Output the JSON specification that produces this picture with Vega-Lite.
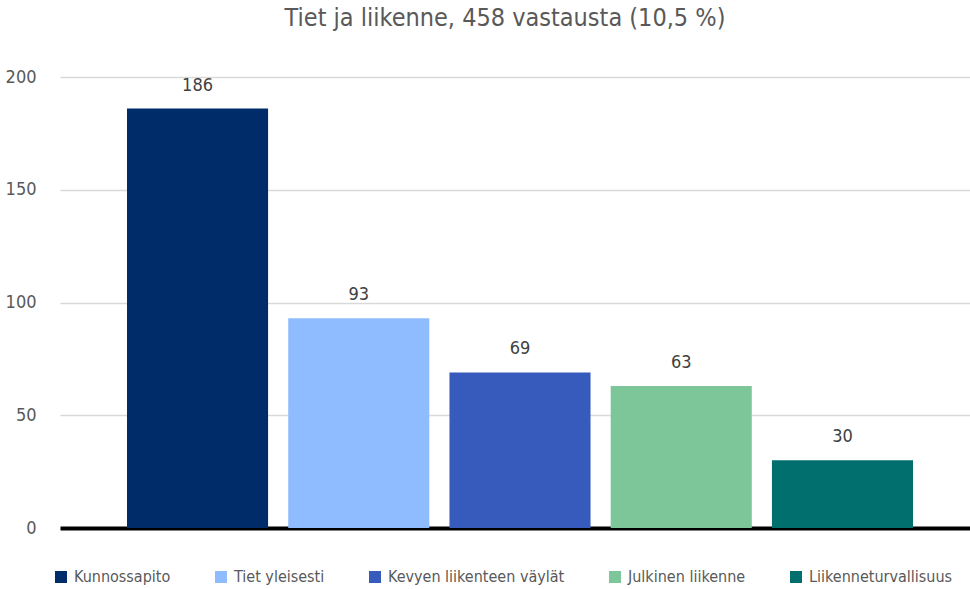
{
  "$schema": "https://vega.github.io/schema/vega-lite/v6.json",
  "width": 920,
  "height": 451,
  "autosize": "none",
  "padding": {"left": 60, "top": 77, "right": 0, "bottom": 61},
  "background": "white",
  "config": {"view": {"stroke": null}, "font": "DejaVu Sans Condensed, Roboto, sans-serif"},
  "title": {
    "text": "Tiet ja liikenne, 458 vastausta (10,5 %)",
    "font": "DejaVu Sans Condensed, Roboto, sans-serif",
    "fontSize": 25,
    "fontWeight": "normal",
    "color": "#595959",
    "anchor": "middle",
    "frame": "group",
    "offset": 37,
    "dx": -15
  },
  "data": {
    "values": [
      {"kategoria": "Kunnossapito", "vastaukset": 186},
      {"kategoria": "Tiet yleisesti", "vastaukset": 93},
      {"kategoria": "Kevyen liikenteen väylät", "vastaukset": 69},
      {"kategoria": "Julkinen liikenne", "vastaukset": 63},
      {"kategoria": "Liikenneturvallisuus", "vastaukset": 30}
    ]
  },
  "encoding": {
    "x": {
      "field": "kategoria",
      "type": "nominal",
      "sort": null,
      "scale": {"paddingInner": 0.125, "paddingOuter": 0.4155},
      "axis": {"title": null, "labels": false, "ticks": false, "domainColor": "black", "domainWidth": 4, "grid": false}
    },
    "y": {
      "field": "vastaukset",
      "type": "quantitative",
      "scale": {"domain": [0, 200]},
      "axis": {
        "title": null,
        "values": [0, 50, 100, 150, 200],
        "domain": false,
        "ticks": false,
        "labelPadding": 24,
        "labelFontSize": 18,
        "labelColor": "#595959",
        "labelFont": "DejaVu Sans Condensed, Roboto, sans-serif",
        "gridColor": "#d9d9d9",
        "gridWidth": 1.5
      }
    }
  },
  "layer": [
    {
      "mark": {"type": "bar"},
      "encoding": {
        "color": {
          "field": "kategoria",
          "type": "nominal",
          "sort": null,
          "scale": {
            "domain": ["Kunnossapito", "Tiet yleisesti", "Kevyen liikenteen väylät", "Julkinen liikenne", "Liikenneturvallisuus"],
            "range": ["#002d6a", "#8fbcff", "#375bbd", "#7cc699", "#006f6d"]
          },
          "legend": {
            "title": null,
            "orient": "none",
            "direction": "horizontal",
            "legendX": -7,
            "legendY": 492,
            "symbolType": "square",
            "symbolSize": 144,
            "symbolStrokeWidth": 0,
            "symbolOpacity": 1,
            "labelFont": "DejaVu Sans Condensed, Roboto, sans-serif",
            "labelFontSize": 16,
            "labelColor": "#595959",
            "labelOffset": 5,
            "columnPadding": 42,
            "labelLimit": 300
          }
        }
      }
    },
    {
      "mark": {"type": "text", "baseline": "bottom", "dy": -14, "fontSize": 18, "color": "#404040", "font": "DejaVu Sans Condensed, Roboto, sans-serif"},
      "encoding": {"text": {"field": "vastaukset", "type": "quantitative"}}
    }
  ]
}
